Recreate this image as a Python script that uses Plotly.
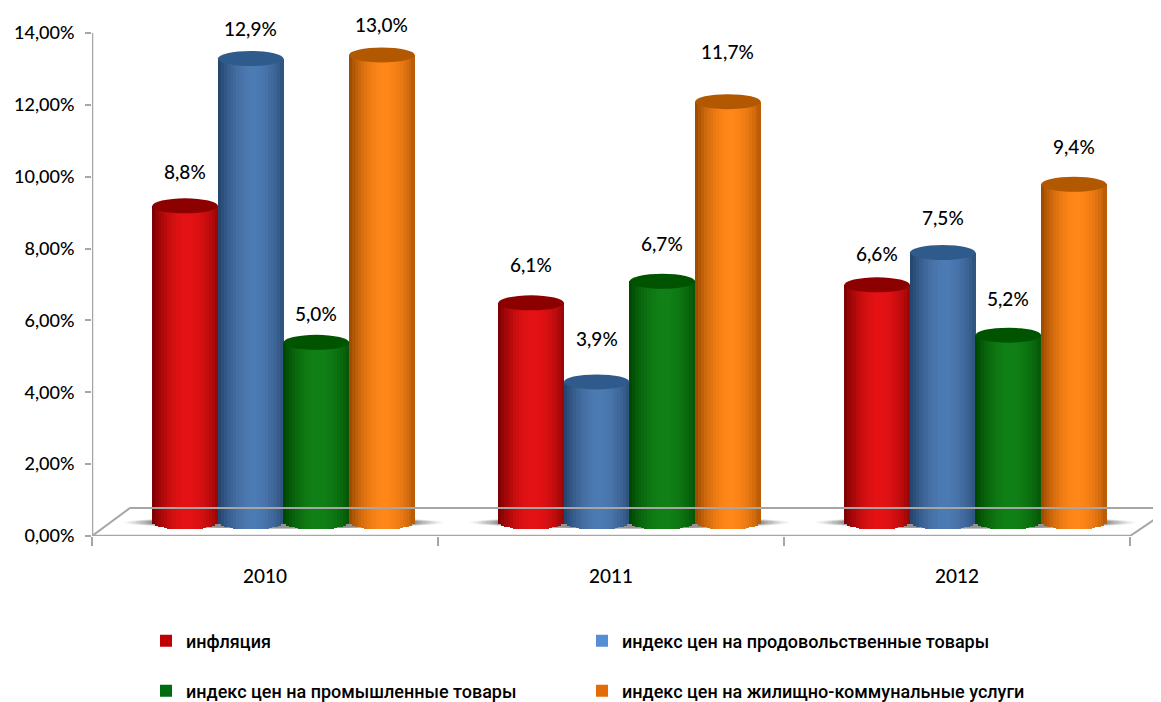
import plotly.graph_objects as go

years = ["2010", "2011", "2012"]
series_names = [
    "инфляция",
    "индекс цен на продовольственные товары",
    "индекс цен на промышленные товары",
    "индекс цен на жилищно-коммунальные услуги",
]
inflation = [8.8, 6.1, 6.6]
food = [12.9, 3.9, 7.5]
industrial = [5.0, 6.7, 5.2]
housing = [13.0, 11.7, 9.4]
y_ticks = [0, 2, 4, 6, 8, 10, 12, 14]
y_tick_text = ["0,00%", "2,00%", "4,00%", "6,00%", "8,00%", "10,00%", "12,00%", "14,00%"]
label_lift_px = [
    [34, 38, 31],
    [30, 43, 35],
    [29, 38, 37],
    [30, 50, 38],
]

series_values = [inflation, food, industrial, housing]
legend_colors = ["#c00000", "#558ed5", "#006b10", "#e36c09"]
edge_colors = [(0x78, 0, 0), (0x22, 0x42, 0x6a), (0, 0x44, 0), (0x98, 0x48, 0)]
mid_colors = [(0xe4, 0x12, 0x14), (0x4c, 0x7a, 0xb2), (0x10, 0x80, 0x16), (0xff, 0x86, 0x18)]
cap_colors = ["#8c0000", "#2f5a8c", "#005400", "#b25800"]

FONT = "Lato, Roboto, sans-serif"
LEG_FONT = "Roboto, sans-serif"
PAGE = 8
W, H = 1161 - PAGE, 702 - PAGE
M_L, M_R, M_T, M_B = 92 - PAGE, 0, 0, 702 - 536
CAT_PX = 346.0
UNIT_PX = (536 - 33) / 14.0
BAR_W = 65.6 / CAT_PX
SHIFT = 18.5 / CAT_PX
FLOOR = 14 / UNIT_PX
RY = 7.5 / UNIT_PX
N_STRIPS = 22
x_max = (1161 - 92) / CAT_PX
y_top = 14 + (33 - PAGE) / UNIT_PX
legend_slots = ["legend", "legend2", "legend3", "legend4"]
legend_x_px = [146, 582, 146, 582]
legend_y_px = [641, 641, 691, 691]


def bar_x(cat, s):
    return cat + 0.5 + SHIFT + (s - 1.5) * BAR_W


def shade(s, t):
    k = max(0.0, 1 - (abs(t - 0.08) / 1.08) ** 2.0)
    e, m = edge_colors[s], mid_colors[s]
    return "rgb(%d,%d,%d)" % tuple(round(e[i] + (m[i] - e[i]) * k) for i in range(3))


fig = go.Figure()

fig.add_trace(go.Scatter(x=[0, 0], y=[0, 14], mode="lines", line=dict(color="#a6a6a6", width=2.5),
                         showlegend=False, hoverinfo="skip", cliponaxis=False))
fig.add_trace(go.Scatter(x=[0, 3], y=[0, 0], mode="lines", line=dict(color="#a6a6a6", width=2.5),
                         showlegend=False, hoverinfo="skip", cliponaxis=False))
fig.add_trace(go.Scatter(x=[0, 38 / CAT_PX, x_max], y=[0, 28 / UNIT_PX, 28 / UNIT_PX], mode="lines",
                         line=dict(color="#a6a6a6", width=2), showlegend=False, hoverinfo="skip"))
fig.add_trace(go.Scatter(x=[3, x_max], y=[0, 21 / UNIT_PX], mode="lines",
                         line=dict(color="#a6a6a6", width=2), showlegend=False, hoverinfo="skip"))

for cat in range(3):
    cx = cat + 0.5 + SHIFT
    for grow, alpha in [(1.22, 0.05), (1.19, 0.06), (1.16, 0.08), (1.13, 0.10), (1.10, 0.13), (1.06, 0.16), (1.03, 0.2)]:
        half = 2 * BAR_W * grow
        fig.add_shape(type="circle", xref="x", yref="y", layer="below",
                      x0=cx - half, x1=cx + half,
                      y0=FLOOR - 6.5 / UNIT_PX,
                      y1=FLOOR + 5.5 / UNIT_PX,
                      fillcolor="rgba(70,70,70,%.2f)" % alpha, line=dict(width=0))

for s, name in enumerate(series_names):
    fig.add_trace(go.Bar(
        x=[bar_x(c, s) for c in range(3)], y=series_values[s], base=[FLOOR] * 3,
        width=BAR_W * 0.98, name=name, marker=dict(color=legend_colors[s], line=dict(width=0)),
        legend=legend_slots[s], hoverinfo="skip",
    ))

for s in range(4):
    for k in range(N_STRIPS):
        t = -1 + (2 * k + 1) / N_STRIPS
        sag = RY * (1 - t * t) ** 0.5
        fig.add_trace(go.Bar(
            x=[bar_x(c, s) + t * BAR_W / 2 for c in range(3)],
            y=[v + sag for v in series_values[s]],
            base=[FLOOR - sag] * 3,
            width=BAR_W / N_STRIPS * 1.15,
            marker=dict(color=shade(s, t), line=dict(width=0)),
            showlegend=False, hoverinfo="skip",
        ))
    for c in range(3):
        top = FLOOR + series_values[s][c]
        fig.add_shape(type="circle", xref="x", yref="y", layer="above",
                      x0=bar_x(c, s) - BAR_W / 2, x1=bar_x(c, s) + BAR_W / 2,
                      y0=top - RY, y1=top + RY,
                      fillcolor=cap_colors[s], line=dict(width=0))
        fig.add_annotation(
            x=bar_x(c, s), y=top + label_lift_px[s][c] / UNIT_PX, xref="x", yref="y",
            text=("%.1f%%" % series_values[s][c]).replace(".", ","),
            showarrow=False, xanchor="center", yanchor="middle",
            font=dict(family=FONT, size=19, color="#000000", weight=500),
        )

legends = {}
for i, slot in enumerate(legend_slots):
    legends[slot] = dict(
        orientation="h", xref="container", yref="container",
        x=(legend_x_px[i] - PAGE) / W, y=1 - (legend_y_px[i] - PAGE) / H,
        xanchor="left", yanchor="middle", itemclick=False, itemdoubleclick=False,
        bgcolor="rgba(0,0,0,0)", font=dict(family=LEG_FONT, size=18, color="#000000", weight=500),
    )

fig.update_layout(
    width=W, height=H, autosize=False,
    margin=dict(l=M_L, r=M_R, t=M_T, b=M_B, autoexpand=False),
    paper_bgcolor="#ffffff", plot_bgcolor="#ffffff",
    barmode="overlay", bargap=0,
    showlegend=True,
    xaxis=dict(
        automargin=False,
        range=[0, x_max], showgrid=False, zeroline=False, showline=False,
        tickmode="array", tickvals=[0.5, 1.5, 2.5], ticktext=years, ticks="", ticklen=0,
        ticklabelstandoff=27,
        tickfont=dict(family=FONT, size=19, color="#000000", weight=500),
        minor=dict(tickmode="array", tickvals=[0, 1, 2, 3], ticks="outside", ticklen=9, tickwidth=2,
                   tickcolor="#a6a6a6", showgrid=False),
    ),
    yaxis=dict(
        automargin=False,
        range=[0, y_top], showgrid=False, zeroline=False, showline=False,
        tickmode="array", tickvals=y_ticks, ticktext=y_tick_text, ticks="outside", ticklen=6, tickwidth=2,
        tickcolor="#a6a6a6", ticklabelstandoff=7,
        tickfont=dict(family=FONT, size=18, color="#000000", weight=500),
    ),
    **legends,
)

fig.write_html("out.html")
